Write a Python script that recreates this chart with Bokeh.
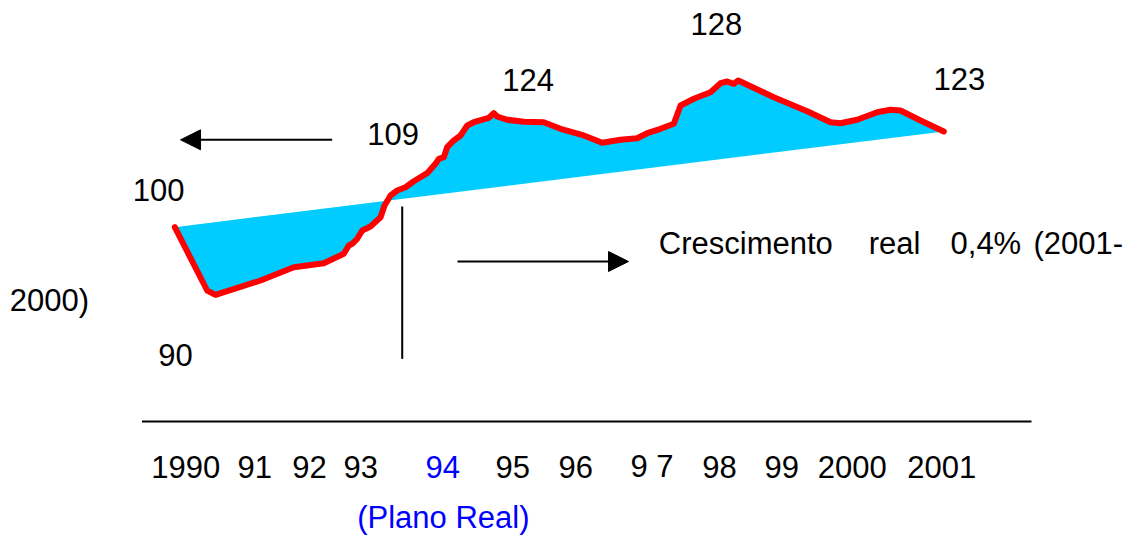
from bokeh.plotting import figure
from bokeh.models import ColumnDataSource, Arrow, NormalHead
from bokeh.core.properties import value
from bokeh.embed import file_html
from bokeh.resources import INLINE

# ---- data (index, 1990 = 100) ----
years = [1990.000, 1990.463, 1990.582, 1991.226, 1991.702, 1992.131, 1992.417, 1992.489,
         1992.538, 1992.609, 1992.681, 1992.799, 1992.943, 1993.000, 1993.086, 1993.181,
         1993.300, 1993.419, 1993.610, 1993.729, 1993.776, 1993.848, 1993.896, 1993.991,
         1994.087, 1994.183, 1994.277, 1994.491, 1994.563, 1994.612, 1994.755, 1994.992,
         1995.278, 1995.517, 1995.850, 1996.114, 1996.375, 1996.614, 1996.757, 1996.948,
         1997.138, 1997.234, 1997.424, 1997.663, 1997.806, 1997.902, 1997.996, 1998.059,
         1998.568, 1999.046, 1999.379, 1999.522, 1999.761, 2000.047, 2000.237, 2000.380,
         2000.667, 2001.000]
index = [100.00, 84.79, 83.75, 87.19, 90.39, 91.35, 93.61, 95.60,
         96.01, 97.21, 99.21, 100.17, 102.40, 105.22, 107.62, 108.82,
         109.61, 111.05, 112.98, 115.24, 116.44, 116.82, 119.23, 120.84,
         122.04, 124.44, 125.23, 126.29, 127.40, 126.60, 125.81, 125.33,
         125.23, 123.65, 122.04, 120.28, 121.00, 121.39, 122.59, 123.65,
         124.85, 129.25, 130.86, 132.44, 134.61, 135.02, 134.46, 135.26,
         131.24, 127.88, 125.23, 124.99, 125.81, 127.64, 128.21, 128.05,
         125.64, 123.00]

# value labels on the chart
value_labels = ["128", "124", "123", "109", "100", "90"]
value_label_x = [1997.377, 1994.683, 2000.853, 1992.752, 1989.399, 1989.763]
value_label_y = [148.73, 135.34, 135.51, 122.29, 108.91, 69.25]

# year labels (drawn as text under the baseline)
year_labels = ["1990", "91", "92", "93", "94", "95", "96", "9 7", "98", "99", "2000", "2001"]
year_label_x = [1989.662, 1990.897, 1991.679, 1992.413, 1993.586, 1994.587, 1995.489,
                1996.518, 1997.544, 1998.435, 1999.197, 2000.476]
year_label_color = ["black", "black", "black", "black", "#0000FF", "black", "black",
                    "black", "black", "black", "black", "black"]
year_label_y = 42.43

# growth note words
note_words = ["Crescimento", "real", "0,4%", "(2001-"]
note_x = [1996.923, 1999.927, 2001.096, 2002.283]
note_y = 96.10
note_tail = "2000)"
note_tail_x, note_tail_y = 1987.640, 82.33

plano_text = "(Plano Real)"
plano_x, plano_y = 1992.609, 30.25

FONT = value("Liberation Sans")
FS = value("31px")

p = figure(width=1147, height=537, output_backend="svg", toolbar_location=None,
           x_range=(1987.5068, 2003.9136), y_range=(25.43, 154.48),
           x_axis_type=None, y_axis_type=None, min_border=0)
p.outline_line_color = None
p.grid.visible = False
p.background_fill_color = "white"
p.border_fill_color = "white"

src = ColumnDataSource(dict(x=years, y=index))
p.patch("x", "y", source=src, fill_color="#00CCFF", line_color=None)
p.line("x", "y", source=src, line_color="#FF0000", line_width=6, line_join="round", line_cap="round")

# baseline rule and vertical marker (Plano Real)
p.segment(x0=[1989.531], y0=[53.30], x1=[2002.254], y1=[53.30], line_color="black", line_width=2)
p.segment(x0=[1993.253], y0=[104.97], x1=[1993.253], y1=[68.37], line_color="black", line_width=2)

# arrows
p.add_layout(Arrow(x_start=1992.251, y_start=121.00, x_end=1990.082, y_end=121.00,
                   line_color="black", line_width=2,
                   end=NormalHead(size=20, fill_color="black", line_color="black")))
p.add_layout(Arrow(x_start=1994.044, y_start=91.76, x_end=1996.490, y_end=91.76,
                   line_color="black", line_width=2,
                   end=NormalHead(size=20, fill_color="black", line_color="black")))

# texts
p.text(x=value_label_x, y=value_label_y, text=value_labels, text_font=FONT, text_font_size=FS,
       text_color="black", text_baseline="alphabetic", text_align="left")
ysrc = ColumnDataSource(dict(x=year_label_x, y=[year_label_y] * len(year_labels),
                             t=year_labels, c=year_label_color))
p.text(x="x", y="y", text="t", text_color="c", source=ysrc, text_font=FONT, text_font_size=FS,
       text_baseline="alphabetic", text_align="left")
p.text(x=note_x, y=[note_y] * len(note_words), text=note_words, text_font=FONT, text_font_size=FS,
       text_color="black", text_baseline="alphabetic", text_align="left")
p.text(x=[note_tail_x], y=[note_tail_y], text=[note_tail], text_font=FONT, text_font_size=FS,
       text_color="black", text_baseline="alphabetic", text_align="left")
p.text(x=[plano_x], y=[plano_y], text=[plano_text], text_font=FONT, text_font_size=FS,
       text_color="#0000FF", text_baseline="alphabetic", text_align="left")

open("out.html", "w").write(file_html(p, INLINE))
